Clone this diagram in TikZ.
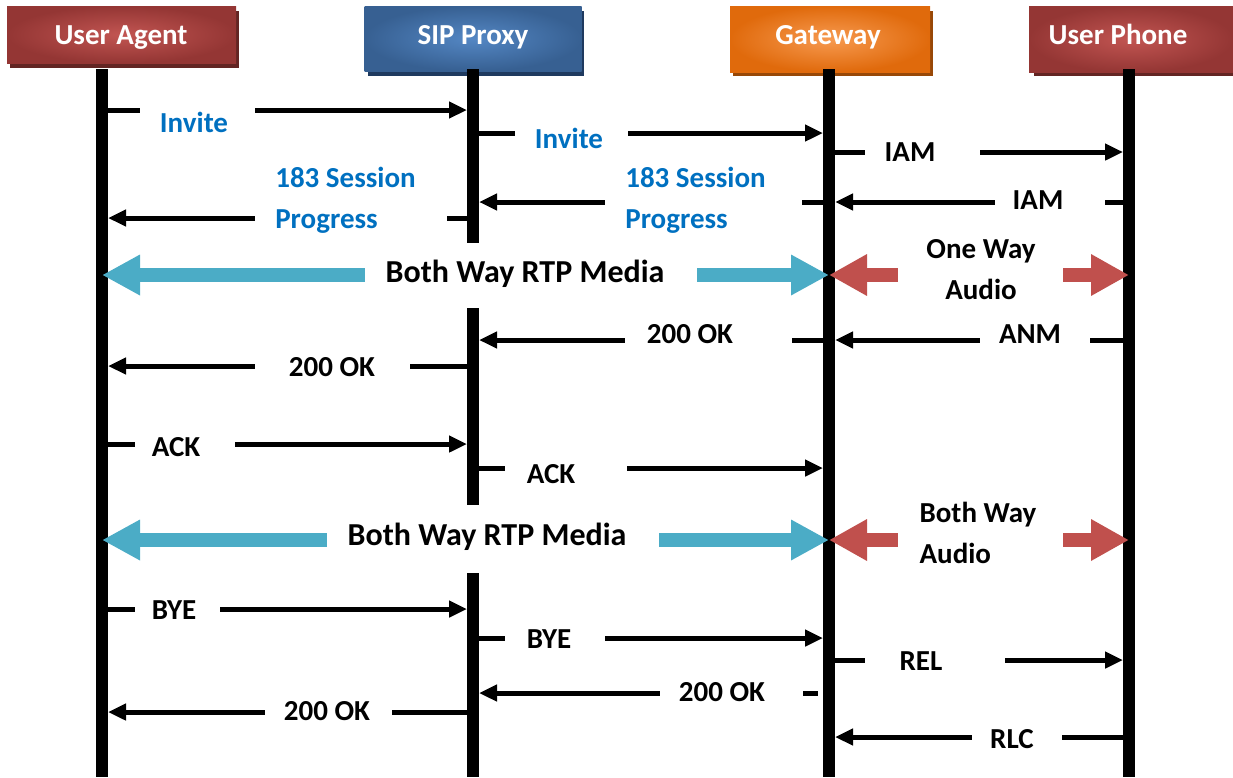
\documentclass[tikz,border=0pt]{standalone}
\usepackage{fontspec}
\setmainfont{Carlito}
\usetikzlibrary{arrows.meta,shadows}
\definecolor{sipblue}{HTML}{0070C0}
\definecolor{rtpcyan}{HTML}{4BACC6}
\definecolor{audred}{HTML}{C0504D}
\definecolor{redO}{HTML}{943634}
\definecolor{redI}{HTML}{C25552}
\definecolor{redS}{HTML}{632523}
\definecolor{bluO}{HTML}{376092}
\definecolor{bluI}{HTML}{5487C4}
\definecolor{bluS}{HTML}{1F3A5F}
\definecolor{orgO}{HTML}{E06A0C}
\definecolor{orgI}{HTML}{F79A50}
\definecolor{orgS}{HTML}{984807}
\tikzset{
  hdr/.style 2 args={rectangle, inner sep=0, inner color=#1, outer color=#2},
  hdrtxt/.style={inner sep=0, anchor=base, text=white, font=\fontsize{29}{34}\selectfont\bfseries},
  life/.style={line width=12pt, black},
  msg/.style={line width=5pt, black, shorten >=6pt, -{Triangle[length=18pt,width=16pt]}},
  lbl/.style={font=\fontsize{29}{41}\selectfont\bfseries, align=left, inner sep=0},
  blu/.style={lbl, text=sipblue},
  blk/.style={lbl, text=black},
  media/.style={lbl, font=\fontsize{32}{41}\selectfont\bfseries, text=black},
  rtp/.style={line width=14pt, rtpcyan, {Triangle[length=38pt,width=38pt]}-{Triangle[length=38pt,width=38pt]}},
  aud/.style={line width=14pt, audred, {Triangle[length=38pt,width=39pt]}-{Triangle[length=38pt,width=39pt]}}
}
\newcommand\Msg[9]{%
  \draw[msg] (#1 |- 0,#3) -- (#2 |- 0,#3);
  \fill[white] (#4,#3-5) rectangle (#5,#3+5);
  \node[#8] at (#6,#7) {#9};
}
\begin{document}
\begin{tikzpicture}[x=1pt,y=-1pt]
\useasboundingbox (0,0) rectangle (1233,777);
% header boxes (shadows first)
\fill[redS] (10,11) rectangle (239,68);
\fill[bluS] (368,11) rectangle (584,76);
\fill[orgS] (733,11) rectangle (933,76);
\fill[redS] (1034,11) rectangle (1236,76);
\node[hdr={redI}{redO}, minimum width=229pt, minimum height=57pt] (UA) at (121.5,34.5) {};
\node[hdr={bluI}{bluO}, minimum width=217pt, minimum height=65pt] (PX) at (473,38.5) {};
\node[hdr={orgI}{orgO}, minimum width=200pt, minimum height=66pt] (GW) at (830,39) {};
\node[hdr={redI}{redO}, minimum width=204pt, minimum height=66pt] (UP) at (1131,39) {};
\node[hdrtxt] (UAt) at (121,44) {User Agent};
\node[hdrtxt] (PXt) at (473,44) {SIP Proxy};
\node[hdrtxt] (GWt) at (828,44) {Gateway};
\node[hdrtxt] (UPt) at (1118,44) {User Phone};
% lifeline anchors
\coordinate (ua) at (102,69);
\coordinate (px) at (473,69);
\coordinate (gw) at (829,69);
\coordinate (up) at (1129,69);
\draw[life] (ua) -- (ua |- 0,777);
\draw[life] (px) -- (px |- 0,243);
\draw[life] (px |- 0,308) -- (px |- 0,505);
\draw[life] (px |- 0,573) -- (px |- 0,777);
\draw[life] (gw) -- (gw |- 0,777);
\draw[life] (up) -- (up |- 0,777);
% messages
\Msg{ua}{px}{110}{140}{255}{194}{122}{blu}{Invite}
\Msg{px}{gw}{133}{515}{628}{569}{138}{blu}{Invite}
\Msg{gw}{up}{152}{865}{980}{910}{152}{blk}{IAM}
\Msg{up}{gw}{202}{995}{1105}{1038}{200}{blk}{IAM}
\Msg{gw}{px}{202}{605}{802}{695.5}{200.5}{blu}{183 Session\\Progress}
\Msg{px}{ua}{218}{255}{447}{345.5}{200.5}{blu}{183 Session\\Progress}
\Msg{gw}{px}{340}{625}{792}{690}{334}{blk}{200 OK}
\Msg{up}{gw}{340}{980}{1090}{1030}{334}{blk}{ANM}
\Msg{px}{ua}{366}{255}{410}{332}{367}{blk}{200 OK}
\Msg{ua}{px}{444}{135}{235}{176}{447}{blk}{ACK}
\Msg{px}{gw}{468}{505}{627}{551}{474}{blk}{ACK}
\Msg{ua}{px}{609}{135}{220}{174}{610}{blk}{BYE}
\Msg{px}{gw}{638}{505}{605}{549}{639}{blk}{BYE}
\Msg{gw}{up}{660}{865}{1005}{921}{661}{blk}{REL}
\Msg{gw}{px}{693}{660}{803}{722}{692}{blk}{200 OK}
\fill[white] (818,688) rectangle (823,698);
\Msg{px}{ua}{712}{265}{392}{327}{711}{blk}{200 OK}
\Msg{up}{gw}{737}{972}{1062}{1012}{739}{blk}{RLC}
% media arrows
\draw[rtp] (ua |- 0,275) -- (gw |- 0,275);
\fill[white] (365,265) rectangle (697,285);
\node[media] (m1) at (525,274) {Both Way RTP Media};
\draw[aud] (gw |- 0,275) -- (up |- 0,275);
\fill[white] (898,265) rectangle (1063,285);
\node[blk, align=center] (a1) at (981,270) {One Way\\Audio};
\draw[rtp] (ua |- 0,540) -- (gw |- 0,540);
\fill[white] (327,530) rectangle (659,550);
\node[media] (m2) at (487,537) {Both Way RTP Media};
\draw[aud] (gw |- 0,540) -- (up |- 0,540);
\fill[white] (898,530) rectangle (1063,550);
\node[blk] (a2) at (978,533) {Both Way\\Audio};
\end{tikzpicture}
\end{document}
